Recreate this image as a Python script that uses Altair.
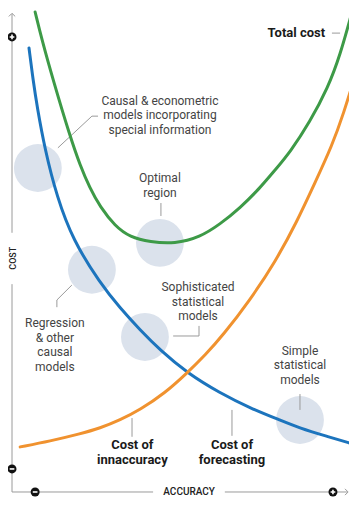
import altair as alt
import pandas as pd

# ---- data (accuracy 0-100 along x, cost 0-100 along y) ----
total_acc = [6.8, 8.8, 12.1, 17.1, 20.0, 22.9, 25.9, 30.3, 34.7, 40.6, 47.9, 55.3, 61.2, 67.1, 72.9, 77.4, 81.8, 87.6, 92.9, 96.5, 100.0]
total_cost = [100.0, 94.2, 85.8, 74.0, 68.1, 63.3, 59.4, 55.4, 53.1, 52.1, 51.7, 53.1, 55.8, 59.2, 63.3, 67.1, 70.8, 77.1, 84.2, 91.0, 100.0]

inacc_acc = [5.0, 6.2, 7.4, 9.7, 13.2, 17.9, 25.9, 31.8, 37.6, 43.5, 51.5, 61.2, 70.0, 78.8, 84.7, 92.1, 100.3]
inacc_cost = [92.5, 85.8, 80.2, 71.3, 61.5, 52.5, 43.5, 38.3, 33.8, 29.6, 24.8, 20.6, 17.5, 15.0, 13.3, 11.7, 10.0]

fore_acc = [2.4, 11.2, 20.0, 25.9, 31.8, 37.6, 45.0, 51.5, 56.8, 62.1, 70.0, 77.4, 83.8, 89.1, 94.1, 97.6, 100.9]
fore_cost = [9.4, 10.6, 12.1, 13.3, 15.0, 17.1, 20.6, 24.8, 28.5, 32.7, 40.0, 47.9, 56.3, 64.4, 72.1, 79.0, 86.7]

circle_names = ["Causal & econometric", "Optimal region", "Regression", "Sophisticated statistical", "Simple statistical"]
circle_acc = [7.6, 43.5, 23.5, 39.1, 84.7]
circle_cost = [67.5, 51.9, 46.3, 32.3, 15.0]

label_text = ["Causal & econometric\nmodels incorporating\nspecial information",
              "Optimal\nregion",
              "Regression\n& other\ncausal\nmodels",
              "Sophisticated\nstatistical\nmodels",
              "Simple\nstatistical\nmodels"]
label_acc = [43.5, 43.5, 12.6, 54.7, 84.7]
label_cost = [81.5, 65.4, 35.2, 42.7, 29.4]   # first line of each label

bold_text = ["Cost of\ninnaccuracy", "Cost of\nforecasting"]
bold_acc = [35.4, 64.7]
bold_cost = [9.8, 9.8]

leader_id = [0, 0, 0, 1, 1, 2, 2, 2, 3, 3, 3, 4, 4, 5, 5, 6, 6, 7, 7]
leader_acc = [13.5, 23.5, 25.3, 43.8, 43.8, 17.6, 13.2, 13.2, 47.4, 55.0, 55.0, 84.7, 84.7, 35.3, 35.3, 64.7, 64.7, 94.1, 96.5]
leader_cost = [71.7, 78.3, 78.3, 60.2, 57.5, 43.1, 40.0, 38.5, 32.5, 32.5, 34.6, 20.4, 17.1, 15.4, 11.5, 17.1, 11.7, 95.6, 95.6]

GRAY = "#9a9a9a"
FONT = "Roboto"

xs = alt.Scale(domain=[-1.18, 99.12], nice=False, zero=False)
ys = alt.Scale(domain=[-3.96, 100.83], nice=False, zero=False)

def X(f="a"):
    return alt.X(f"{f}:Q", scale=xs, axis=None)

def Y(f="c"):
    return alt.Y(f"{f}:Q", scale=ys, axis=None)

# circles
circ_df = pd.DataFrame({"name": circle_names, "a": circle_acc, "c": circle_cost})
circles = alt.Chart(circ_df).mark_circle(size=2290, color="#dbe2ec", opacity=1).encode(x=X(), y=Y())

# curves
rows = []
for s, aa, cc in [("Cost of innaccuracy", inacc_acc, inacc_cost),
                  ("Cost of forecasting", fore_acc, fore_cost),
                  ("Total cost", total_acc, total_cost)]:
    for i, (a, c) in enumerate(zip(aa, cc)):
        rows.append({"series": s, "a": a, "c": c, "o": i})
curve_df = pd.DataFrame(rows)
curves = alt.Chart(curve_df).mark_line(strokeWidth=3, interpolate="basis", strokeCap="round").encode(
    x=X(), y=Y(),
    color=alt.Color("series:N", legend=None,
                    scale=alt.Scale(domain=["Cost of innaccuracy", "Cost of forecasting", "Total cost"],
                                    range=["#1c74bd", "#f0922f", "#3d9a47"])),
    order="o:Q",
)

# leaders
lead_df = pd.DataFrame({"g": leader_id, "a": leader_acc, "c": leader_cost, "o": list(range(len(leader_id)))})
leaders = alt.Chart(lead_df).mark_line(color=GRAY, strokeWidth=1).encode(
    x=X(), y=Y(), detail="g:N", order="o:Q")

# axis lines (segments broken around the axis titles)
axis_df = pd.DataFrame({
    "a": [0, 0, 0, 62.6],
    "a2": [0, 0, 41.5, 98.6],
    "c": [0, 54.0, 0, 0],
    "c2": [43.3, 99.6, 0, 0],
})
axes = alt.Chart(axis_df).mark_rule(color=GRAY, strokeWidth=1).encode(
    x=X(), x2="a2:Q", y=Y(), y2="c2:Q")

arrow_up = alt.Chart(pd.DataFrame({"a": [0], "c": [99.4]})).mark_point(
    shape="M -1 0.5 L 0 -0.5 L 1 0.5", size=40, color=GRAY, strokeWidth=1, filled=False, opacity=1
).encode(x=X(), y=Y())
arrow_right = alt.Chart(pd.DataFrame({"a": [98.4], "c": [0]})).mark_point(
    shape="M -0.5 -1 L 0.5 0 L -0.5 1", size=40, color=GRAY, strokeWidth=1, filled=False, opacity=1
).encode(x=X(), y=Y())

# +/- markers
mark_acc = [0, 0, 6.8, 94.4]
mark_cost = [94.8, 4.8, 0, 0]
mark_sign = ["+", "-", "-", "+"]
mk_df = pd.DataFrame({"a": mark_acc, "c": mark_cost, "s": mark_sign})
dots = alt.Chart(mk_df).mark_circle(size=80, color="#111111", opacity=1).encode(x=X(), y=Y())
plus = alt.Chart(mk_df).transform_filter("datum.s == '+'").mark_point(
    shape="M -1 0 L 1 0 M 0 -1 L 0 1", size=22, color="white", strokeWidth=1.6, filled=False, opacity=1
).encode(x=X(), y=Y())
minus = alt.Chart(mk_df).transform_filter("datum.s == '-'").mark_point(
    shape="M -1 0 L 1 0", size=22, color="white", strokeWidth=1.6, filled=False, opacity=1
).encode(x=X(), y=Y())

# texts
lab_df = pd.DataFrame({"t": label_text, "a": label_acc, "c": label_cost})
labels = alt.Chart(lab_df).mark_text(
    font=FONT, fontSize=12, color="#444444", lineBreak="\n", lineHeight=14.5,
    align="center", baseline="middle"
).encode(x=X(), y=Y(), text="t:N")

bold_df = pd.DataFrame({"t": bold_text, "a": bold_acc, "c": bold_cost})
bolds = alt.Chart(bold_df).mark_text(
    font=FONT, fontSize=13, fontWeight="bold", color="#1a1a1a", lineBreak="\n", lineHeight=15,
    align="center", baseline="middle"
).encode(x=X(), y=Y(), text="t:N")

total_lbl = alt.Chart(pd.DataFrame({"t": ["Total cost"], "a": [92.1], "c": [95.6]})).mark_text(
    font=FONT, fontSize=13, fontWeight="bold", color="#1a1a1a", align="right", baseline="middle"
).encode(x=X(), y=Y(), text="t:N")

acc_lbl = alt.Chart(pd.DataFrame({"t": ["ACCURACY"], "a": [52.1], "c": [0]})).mark_text(
    font=FONT, fontSize=10, fontWeight=500, color="#222222", align="center", baseline="middle"
).encode(x=X(), y=Y(), text="t:N")

cost_lbl = alt.Chart(pd.DataFrame({"t": ["COST"], "a": [1.3], "c": [48.7]})).mark_text(
    font=FONT, fontSize=9, fontWeight=500, color="#222222", align="center", baseline="alphabetic", angle=270
).encode(x=X(), y=Y(), text="t:N")

chart = alt.layer(
    circles, leaders, axes, arrow_up, arrow_right, curves, dots, plus, minus,
    labels, bolds, total_lbl, acc_lbl, cost_lbl
).properties(
    width=341, height=503, autosize=alt.AutoSizeParams(type="none"), padding=0, background="white"
).configure_view(stroke=None)

chart.save("out.html", embed_options={"renderer": "svg", "actions": False})
